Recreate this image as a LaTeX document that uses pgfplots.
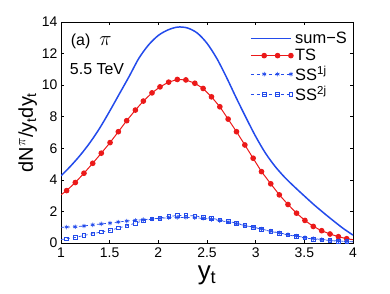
\documentclass[border=0pt]{standalone}
\usepackage{fontspec}
\setmainfont{Liberation Sans}
\usepackage{pgfplots}
\pgfplotsset{compat=1.18}
\definecolor{myblue}{RGB}{35,75,235}
\definecolor{myred}{RGB}{235,25,25}
\begin{document}
\begin{tikzpicture}
\useasboundingbox (-61bp,-51bp) rectangle (329bp,243bp);
\begin{axis}[
  at={(0,0)}, anchor=south west,
  width=292bp, height=221bp, scale only axis,
  xmin=1, xmax=4, ymin=0, ymax=14,
  xtick={1,1.5,2,2.5,3,3.5,4},
  ytick={0,2,4,6,8,10,12,14},
  xticklabels={1,1.5,2,2.5,3,3.5,4},
  tick align=inside, major tick length=3.5bp,
  tick style={black, line width=0.6bp},
  axis line style={black, line width=0.8bp},
  tick label style={font=\fontsize{14}{16}\selectfont},
  xticklabel style={yshift=-1bp},
  /pgf/number format/assume math mode=true,
  xlabel={y\textsubscript{t}},
  xlabel style={font=\fontsize{26}{28}\selectfont, yshift=-2bp},
  ylabel={dN\textsuperscript{$\pi$}/y\textsubscript{t}dy\textsubscript{t}},
  ylabel style={font=\fontsize{20}{22}\selectfont, yshift=-2bp},
  legend style={at={(rel axis cs:1,1)}, anchor=north east, draw=none, fill=none,
    font=\fontsize{16.5}{18}\selectfont, row sep=0bp, xshift=-1bp, yshift=-6bp},
  legend cell align=left,
  legend image code/.code={\draw[#1] plot coordinates {(0bp,0bp) (13.3bp,0bp) (26.7bp,0bp) (40bp,0bp)};},
]
\addplot[myblue, line width=1.5bp, smooth, no marks] coordinates {
(1.0,4.25) (1.1,4.88) (1.2,5.58) (1.3,6.38) (1.4,7.3) (1.5,8.35) (1.6,9.45) (1.7,10.55)
(1.8,11.7) (1.9,12.55) (2.0,13.15) (2.1,13.5) (2.2,13.68) (2.3,13.62)
(2.4,13.3) (2.5,12.65) (2.6,11.7) (2.7,10.5) (2.8,9.2) (2.9,7.95) (3.0,6.75)
(3.1,5.7) (3.2,4.85) (3.3,4.15) (3.4,3.55) (3.5,2.98) (3.6,2.42) (3.7,1.9)
(3.8,1.4) (3.9,0.92) (4.0,0.5)};
\addlegendentry{sum−S}
\addplot[myred, line width=1bp, mark=*, mark size=2.3bp, mark options={solid, fill=myred},
  mark indices={2,...,35}] coordinates {
(1.0,3.05) (1.058,3.32) (1.147,3.83) (1.236,4.42) (1.326,5.05) (1.414,5.69) (1.504,6.36)
(1.589,7.05) (1.675,7.75) (1.764,8.42) (1.846,8.99) (1.935,9.51) (2.017,9.89)
(2.106,10.19) (2.195,10.36) (2.283,10.33) (2.375,10.12) (2.46,9.79) (2.546,9.26)
(2.632,8.63) (2.717,7.85) (2.803,7.05) (2.889,6.21) (2.974,5.37) (3.06,4.52)
(3.155,3.75) (3.243,3.05) (3.332,2.44) (3.42,1.89) (3.506,1.43) (3.592,1.05)
(3.678,0.78) (3.764,0.57) (3.85,0.40) (3.935,0.27) (4.0,0.21)};
\addlegendentry{TS}
\addplot[myblue, line width=0.7bp, dash pattern=on 3bp off 3bp, mark=asterisk, mark size=2.2bp,
  mark options={solid}, mark indices={2,...,35}] coordinates {
(1.0,0.99) (1.058,1.01) (1.147,1.03) (1.236,1.08) (1.326,1.15) (1.414,1.21) (1.504,1.26)
(1.589,1.33) (1.675,1.39) (1.764,1.44) (1.846,1.48) (1.935,1.52) (2.017,1.56)
(2.106,1.60) (2.195,1.62) (2.283,1.62) (2.375,1.60) (2.46,1.56) (2.546,1.50)
(2.632,1.42) (2.717,1.33) (2.803,1.23) (2.889,1.10) (2.974,1.00) (3.06,0.88)
(3.155,0.75) (3.243,0.64) (3.332,0.53) (3.42,0.44) (3.506,0.35) (3.592,0.28)
(3.678,0.22) (3.764,0.17) (3.85,0.13) (3.935,0.10) (4.0,0.08)};
\addlegendentry{SS\textsuperscript{1j}}
\addplot[myblue, line width=0.7bp, dash pattern=on 3bp off 3bp, mark=square, mark size=1.8bp,
  mark options={solid, fill=white}, mark indices={2,...,35}] coordinates {
(1.0,0.22) (1.058,0.27) (1.147,0.35) (1.236,0.48) (1.326,0.59) (1.414,0.70) (1.504,0.80)
(1.589,0.95) (1.675,1.09) (1.764,1.26) (1.846,1.41) (1.935,1.52) (2.017,1.58)
(2.106,1.68) (2.195,1.74) (2.283,1.74) (2.375,1.72) (2.46,1.63) (2.546,1.56)
(2.632,1.47) (2.717,1.37) (2.803,1.26) (2.889,1.11) (2.974,1.01) (3.06,0.88)
(3.155,0.73) (3.243,0.63) (3.332,0.51) (3.42,0.42) (3.506,0.32) (3.592,0.25)
(3.678,0.21) (3.764,0.16) (3.85,0.10) (3.935,0.10) (4.0,0.08)};
\addlegendentry{SS\textsuperscript{2j}}
\node[anchor=west, font=\fontsize{16}{18}\selectfont, inner sep=0pt] at (axis cs:1.1,12.8) {(a)\hspace{9bp}{\fontsize{20}{22}\selectfont$\pi$}};
\node[anchor=west, font=\fontsize{16}{18}\selectfont, inner sep=0pt] at (axis cs:1.09,11.0) {5.5 TeV};
\end{axis}
\end{tikzpicture}
\end{document}
